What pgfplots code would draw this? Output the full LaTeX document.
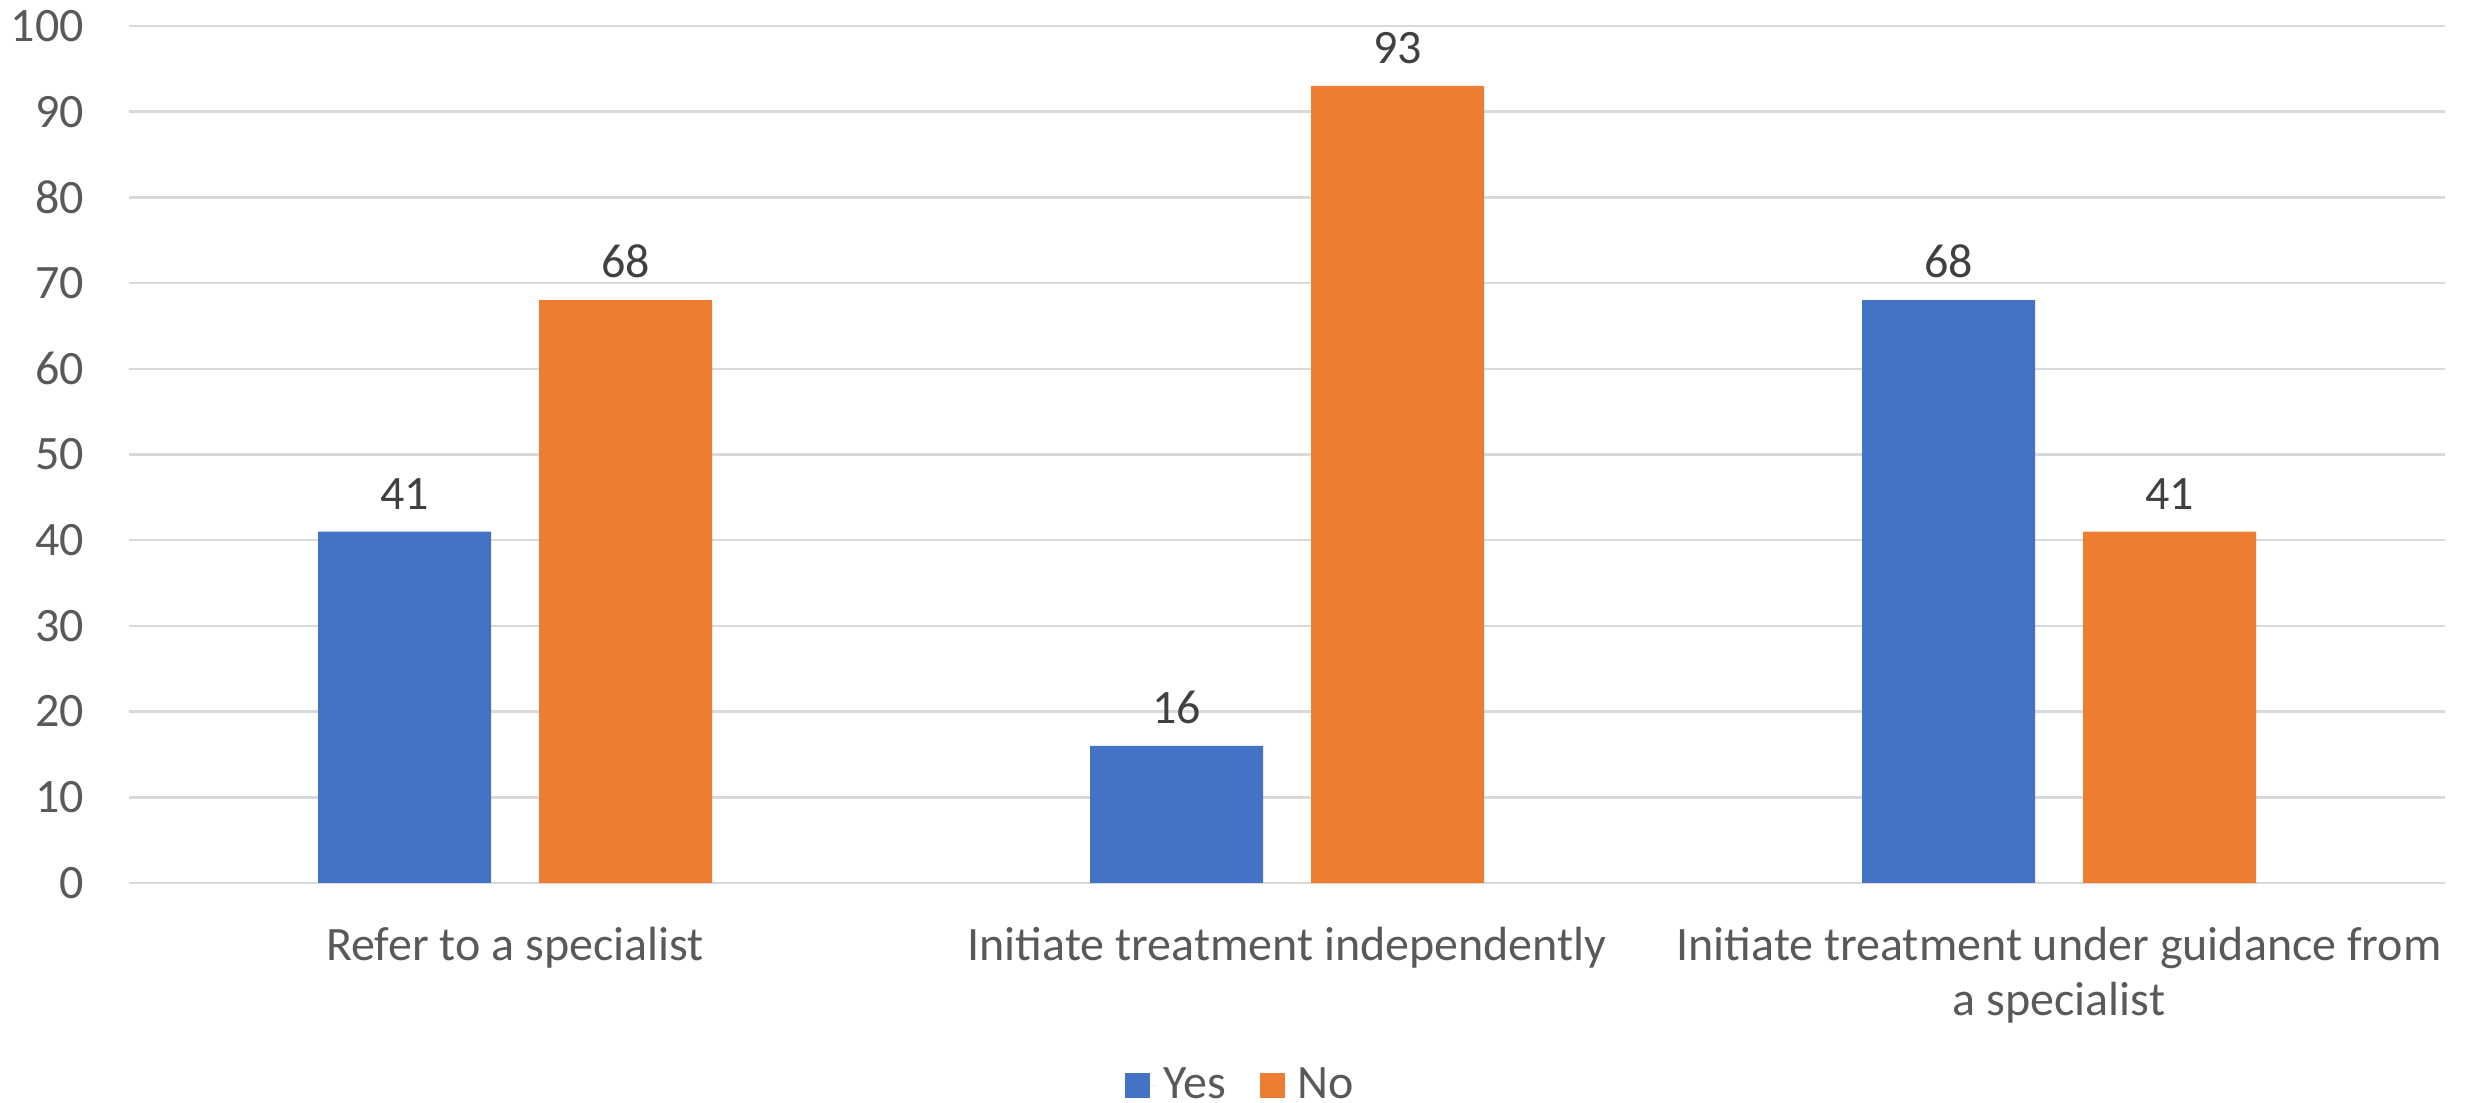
\documentclass[border=0pt]{standalone}
\usepackage{fontspec}
\setmainfont{Carlito}
\usepackage{pgfplots}
\pgfplotsset{compat=1.18}

\definecolor{barblue}{HTML}{4472C4}
\definecolor{barorange}{HTML}{ED7D31}
\definecolor{gridgray}{HTML}{D9D9D9}
\definecolor{ticktext}{HTML}{595959}
\definecolor{labeltext}{HTML}{404040}

\newcommand{\chartfont}{\fontsize{14.4}{16.3}\selectfont}

\begin{document}
\begin{tikzpicture}
\useasboundingbox (0,0) rectangle (740.4pt,330.9pt);
\begin{axis}[
  at={(38.7pt,66pt)}, anchor=south west,
  scale only axis, width=694.8pt, height=257.1pt,
  xmin=-0.5, xmax=2.5, ymin=0, ymax=100,
  ytick={0,10,...,100},
  xtick={0,1,2},
  xticklabels={Refer to a specialist, Initiate treatment independently, {Initiate treatment under guidance from\\a specialist}},
  major tick length=0pt,
  axis line style={draw=none},
  ymajorgrids, grid style={gridgray, line width=0.75pt},
  ybar=14.4pt, bar width=51.9pt,
  /pgf/number format/assume math mode=true,
  tick label style={font=\chartfont, text=ticktext},
  y tick label style={anchor=east, xshift=-10pt},
  x tick label style={align=center, anchor=north, yshift=-9.8pt},
  nodes near coords,
  every node near coord/.append style={font=\chartfont, text=labeltext, yshift=3.2pt},
  legend columns=2,
  legend style={at={(0.481,-0.2367)}, anchor=center, draw=none, fill=none,
    font=\chartfont, text=ticktext,
    /tikz/every even column/.append style={column sep=8pt}},
  legend image code/.code={\fill[#1] (0pt,-3.75pt) rectangle (7.5pt,3.75pt); \path (0pt,0pt) -- (9.5pt,0pt);},
]
\addplot[fill=barblue, draw=none]
  coordinates {(0,41) (1,16) (2,68)};
\addlegendentry{Yes}
\addplot[fill=barorange, draw=none]
  coordinates {(0,68) (1,93) (2,41)};
\addlegendentry{No}
\end{axis}
\end{tikzpicture}
\end{document}
